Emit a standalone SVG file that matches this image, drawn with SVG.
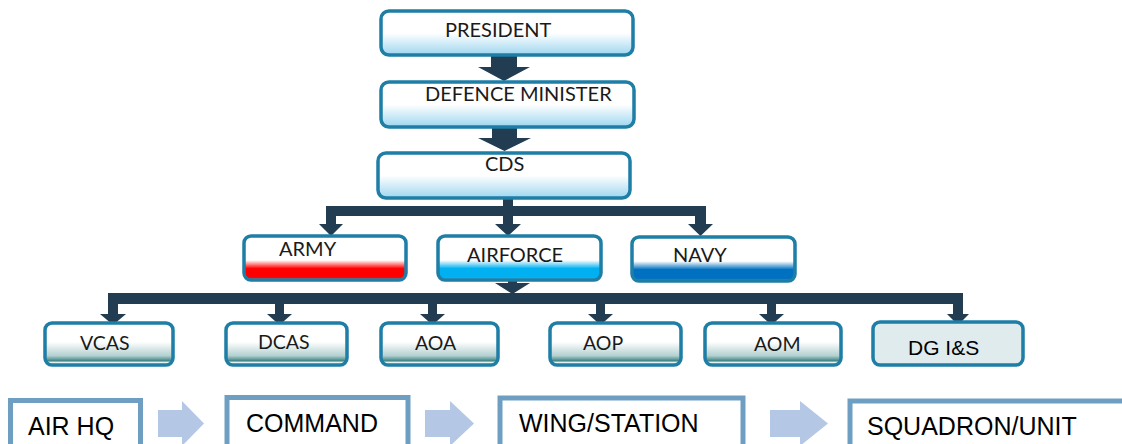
<svg xmlns="http://www.w3.org/2000/svg" width="1122" height="444" viewBox="0 0 1122 444">
<defs>
<linearGradient id="gTop" x1="0" y1="0" x2="0" y2="1"><stop offset="0" stop-color="#ffffff"/><stop offset="0.5" stop-color="#ffffff"/><stop offset="1" stop-color="#9dd6f0"/></linearGradient>
<linearGradient id="gRed" x1="0" y1="0" x2="0" y2="1"><stop offset="0" stop-color="#ffffff"/><stop offset="0.55" stop-color="#ffffff"/><stop offset="0.74" stop-color="#ff0000"/><stop offset="0.94" stop-color="#ff0000"/><stop offset="1" stop-color="#ff6a6a"/></linearGradient>
<linearGradient id="gAir" x1="0" y1="0" x2="0" y2="1"><stop offset="0" stop-color="#ffffff"/><stop offset="0.55" stop-color="#ffffff"/><stop offset="0.74" stop-color="#00b0f0"/><stop offset="0.94" stop-color="#00b0f0"/><stop offset="1" stop-color="#66d0f6"/></linearGradient>
<linearGradient id="gNavy" x1="0" y1="0" x2="0" y2="1"><stop offset="0" stop-color="#ffffff"/><stop offset="0.55" stop-color="#ffffff"/><stop offset="0.74" stop-color="#0070c0"/><stop offset="0.94" stop-color="#0070c0"/><stop offset="1" stop-color="#5a9fd8"/></linearGradient>
<linearGradient id="gLow" x1="0" y1="0" x2="0" y2="1"><stop offset="0" stop-color="#ffffff"/><stop offset="0.45" stop-color="#ffffff"/><stop offset="0.78" stop-color="#b3d0d0"/><stop offset="0.9" stop-color="#3f8585"/><stop offset="0.94" stop-color="#e4f0f0"/><stop offset="1" stop-color="#ffffff"/></linearGradient>
<style>
.nb{stroke:#1e7ea6;stroke-width:3.5}
.t{font-family:Lato,"Open Sans",sans-serif;font-size:20px;fill:#1a1a1a}
.tl{font-family:Lato,"Open Sans",sans-serif;font-size:19.5px;fill:#1a1a1a}
.bb{fill:#ffffff;stroke:#6e9fc3;stroke-width:5}
.bt{font-family:"Liberation Sans",Arial,sans-serif;font-size:25px;fill:#000000}
.dk{fill:#223d52}
.ba{fill:#b4c8e5}
</style>
</defs>

<g id="connectors">
  <!-- big arrows -->
  <polygon class="dk" points="491,55 517,55 517,67 530,67 504,81 478,67 491,67"/>
  <polygon class="dk" points="492,127 517,127 517,138 531,138 504.5,151 478,138 492,138"/>
  <!-- bar 1 -->
  <rect class="dk" x="503" y="197" width="10" height="10"/>
  <rect class="dk" x="326" y="206" width="380" height="10"/>
  <polygon class="dk" points="326,216 336,216 336,224 343,224 331,236 319,224 326,224"/>
  <polygon class="dk" points="503,216 513,216 513,224 521,224 508,236 495,224 503,224"/>
  <polygon class="dk" points="695,206 706,206 706,224 713,224 700.5,236 688,224 695,224"/>
  <!-- airforce to bar 2 -->
  <polygon class="dk" points="508,280 517,280 517,283 530,283 512.5,294 495,283 508,283"/>
  <!-- bar 2 -->
  <rect class="dk" x="108" y="293" width="855" height="11"/>
  <polygon class="dk" points="108,304 118,304 118,314 126,314 113,325 100,314 108,314"/>
  <polygon class="dk" points="275,304 284,304 284,314 292,314 279.5,325 267,314 275,314"/>
  <polygon class="dk" points="428,304 437,304 437,314 445,314 432.5,325 420,314 428,314"/>
  <polygon class="dk" points="596,304 605,304 605,314 613,314 600.5,325 588,314 596,314"/>
  <polygon class="dk" points="767,304 776,304 776,314 784,314 771.5,325 759,314 767,314"/>
  <polygon class="dk" points="953,304 963,304 963,314 969,314 958,325 947,314 953,314"/>
  <!-- bottom flow arrows -->
  <polygon class="ba" points="158,410 182,410 182,401 204,423.5 182,446 182,437 158,437"/>
  <polygon class="ba" points="425,410 450,410 450,401 474,423.5 450,446 450,437 425,437"/>
  <polygon class="ba" points="770,410 800,410 800,401 828,423.5 800,446 800,437 770,437"/>
</g>

<g id="president"><rect class="nb" x="381" y="11" width="252" height="44" rx="8" fill="url(#gTop)"/><text class="t" x="445" y="37">PRESIDENT</text></g>
<g id="defence-minister"><rect class="nb" x="381" y="82" width="253" height="45" rx="8" fill="url(#gTop)"/><text class="t" x="425" y="101">DEFENCE MINISTER</text></g>
<g id="cds"><rect class="nb" x="378" y="153" width="252" height="45" rx="8" fill="url(#gTop)"/><text class="t" x="485" y="171">CDS</text></g>

<g id="army"><rect class="nb" x="244" y="236" width="162" height="44" rx="7" fill="url(#gRed)"/><text class="t" x="279" y="256">ARMY</text></g>
<g id="airforce"><rect class="nb" x="438" y="236" width="163" height="44" rx="7" fill="url(#gAir)"/><text class="t" x="467" y="262">AIRFORCE</text></g>
<g id="navy"><rect class="nb" x="632" y="237" width="163" height="44" rx="7" fill="url(#gNavy)"/><text class="t" x="673" y="262">NAVY</text></g>

<g id="vcas"><rect class="nb" x="45" y="323" width="128" height="42" rx="7" fill="url(#gLow)"/><text class="tl" x="80" y="350">VCAS</text></g>
<g id="dcas"><rect class="nb" x="226" y="323" width="121" height="42" rx="7" fill="url(#gLow)"/><text class="tl" x="258" y="349">DCAS</text></g>
<g id="aoa"><rect class="nb" x="381" y="323" width="117" height="42" rx="7" fill="url(#gLow)"/><text class="tl" x="415" y="350">AOA</text></g>
<g id="aop"><rect class="nb" x="550" y="323" width="131" height="42" rx="7" fill="url(#gLow)"/><text class="tl" x="583" y="350">AOP</text></g>
<g id="aom"><rect class="nb" x="705" y="323" width="136" height="42" rx="7" fill="url(#gLow)"/><text class="tl" x="754" y="351">AOM</text></g>
<g id="dg-is"><rect class="nb" x="873" y="322" width="150" height="43" rx="7" fill="#dfebec"/><text class="bt" style="font-size:21px" x="908" y="355">DG I&amp;S</text></g>

<g id="air-hq"><rect class="bb" x="10.5" y="400.5" width="130" height="50"/><text class="bt" x="28" y="435">AIR HQ</text></g>
<g id="command"><rect class="bb" x="227" y="397.5" width="181" height="52"/><text class="bt" x="246" y="432">COMMAND</text></g>
<g id="wing-station"><rect class="bb" x="500" y="398" width="243" height="52"/><text class="bt" x="519" y="432">WING/STATION</text></g>
<g id="squadron-unit"><rect class="bb" x="850" y="401" width="280" height="50"/><text class="bt" x="867" y="435">SQUADRON/UNIT</text></g>
</svg>
